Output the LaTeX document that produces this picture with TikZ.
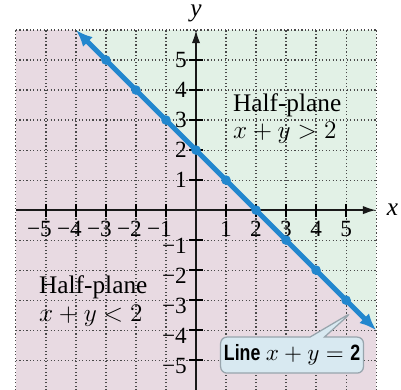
\documentclass[tikz,border=0pt]{standalone}
\usepackage{fontspec}
\setmainfont{Liberation Serif}
\newfontfamily\calloutfont[FakeStretch=0.8]{Liberation Sans}
\usetikzlibrary{arrows.meta,positioning,shapes.callouts}
\definecolor{lineblue}{HTML}{2287CE}
\definecolor{upperfill}{HTML}{E2F1E6}
\definecolor{lowerfill}{HTML}{E8DAE2}
\definecolor{calloutfill}{HTML}{D8E9F1}
\definecolor{calloutdraw}{HTML}{98A5AD}
\definecolor{gridgray}{HTML}{4A4A4A}
\tikzset{
  gridline/.style={draw=gridgray, line width=0.55pt, dash pattern=on 0.55pt off 1.1pt},
  axisline/.style={-{Latex[length=2.2mm,width=1.4mm]}, line width=0.9pt, color=black!90},
  boundary/.style={{Latex[length=2.8mm,width=2.3mm]}-{Latex[length=2.8mm,width=2.3mm]},
    line width=2.4pt, color=lineblue},
  ptdot/.style={circle, fill=lineblue, inner sep=0pt, minimum size=1.6mm},
  ticklabel/.style={font=\fontsize{11}{12}\selectfont, inner sep=0pt},
  regionlabel/.style={font=\fontsize{12}{13}\selectfont, align=left, inner sep=0pt},
  linelabel/.style={
    rectangle callout, rounded corners=3pt, draw=calloutdraw, line width=0.6pt,
    fill=calloutfill, minimum width=2.38cm, minimum height=0.6cm,
    callout pointer width=2.4mm, inner sep=0pt, font=\fontsize{10.5}{12}\selectfont
  },
}
\begin{document}
\begin{tikzpicture}[x=0.5cm, y=0.5cm]
  \useasboundingbox (-6.53,-5.97) rectangle (6.83,7.0);
  % half-planes
  \fill[lowerfill] (-6,6) -- (-4,6) -- (6,-4) -- (6,-6) -- (-6,-6) -- cycle;
  \fill[upperfill] (-4,6) -- (6,6) -- (6,-4) -- cycle;
  % grid
  \foreach \k in {-6,...,6} {
    \draw[gridline] (\k,-6) -- (\k,6);
    \draw[gridline] (-6,\k) -- (6,\k);
  }
  % axes
  \coordinate (xstart) at (-6,0);
  \coordinate (xend) at (6,0);
  \coordinate (ystart) at (0,-6);
  \coordinate (yend) at (0,6);
  \draw[axisline] (xstart) -- (xend);
  \draw[axisline] (ystart) -- (yend);
  \node[font=\fontsize{12}{13}\selectfont\itshape] (xlab) at (6.55,0) {x};
  \node[font=\fontsize{12}{13}\selectfont\itshape] (ylab) at (0,6.55) {y};
  \foreach \k in {-5,...,-1,1,2,3,4,5} {
    \draw[line width=0.8pt] (\k,-0.22) -- (\k,0.22);
    \draw[line width=0.8pt] (-0.22,\k) -- (0.22,\k);
  }
  % tick labels
  \foreach \n in {1,...,5} {
    \node[ticklabel] (xp\n) at (\n,-0.62) {\n};
    \node[ticklabel] (xm\n) at (-\n,-0.62) {\llap{−}\n};
    \node[ticklabel] (yp\n) at (-0.5,\n) {\n};
    \node[ticklabel] (ym\n) at (-0.5,-\n-0.18) {\llap{−}\n};
  }
  % boundary line x + y = 2
  \coordinate (ltop) at (-4,6);
  \coordinate (lbot) at (6,-4);
  \draw[boundary] (ltop) -- (lbot);
  \foreach \x in {-3,...,5}
    \node[ptdot] (p\x) at (\x,{2-\x}) {};
  % region labels
  \node[regionlabel, anchor=west] (upper) at (1.22,3.05) {Half-plane\\$x+y>2$};
  \node[regionlabel, anchor=west] (lower) at (-5.24,-3.03) {Half-plane\\$x+y<2$};
  % callout
  \coordinate (tip) at (5.17,-3.42);
  \node[linelabel, callout absolute pointer={(tip)}] (linelab) at (3.2,-4.83)
    {{\calloutfont\bfseries Line} $x+y=\mbox{\calloutfont\bfseries 2}$};
\end{tikzpicture}
\end{document}
